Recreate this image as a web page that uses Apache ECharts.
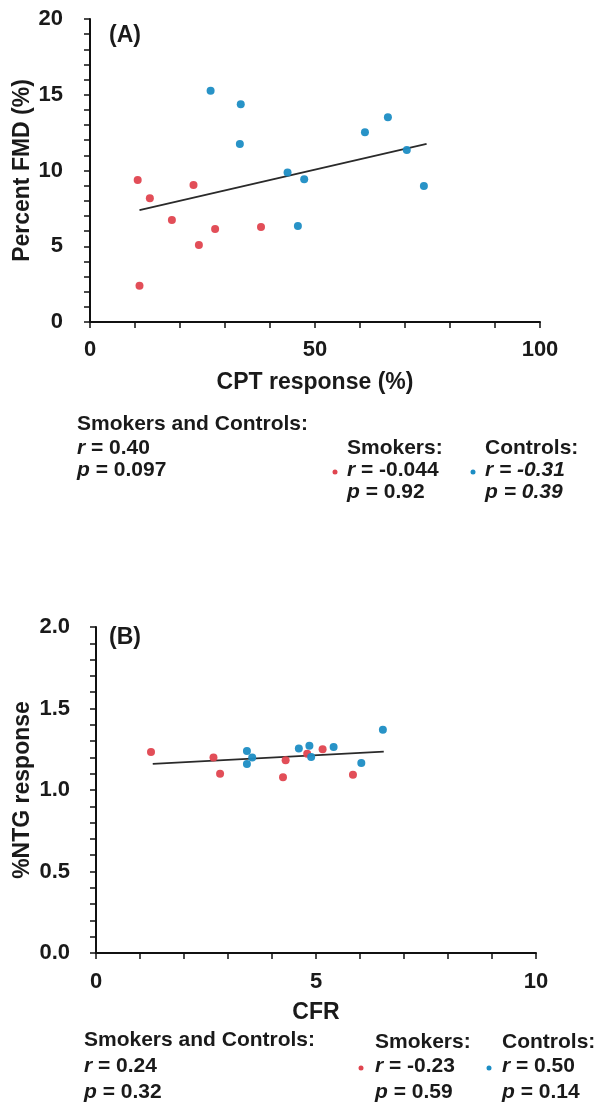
<!DOCTYPE html>
<html>
<head>
<meta charset="utf-8">
<title>CPT / CFR correlations</title>
<script src="https://cdn.jsdelivr.net/npm/echarts@6/dist/echarts.min.js"></script>
<style>
  html, body { margin: 0; padding: 0; background: #fff; }
  #main { width: 610px; height: 1109px; }
</style>
</head>
<body>
<div id="main"></div>
<script>
/********** data **********/
// panel A : CPT response (%) vs Percent FMD (%)
var smokersA_x = [10.6, 13.3, 23.0, 18.2, 27.8, 24.2, 38.0, 11.0];
var smokersA_y = [9.37, 8.17, 9.04, 6.73, 6.14, 5.08, 6.27, 2.40];
var controlsA_x = [26.8, 33.5, 33.3, 61.1, 66.2, 70.4, 43.9, 47.6, 46.2, 74.2];
var controlsA_y = [15.27, 14.37, 11.75, 12.52, 13.51, 11.35, 9.86, 9.42, 6.34, 8.98];
var trendA_x = [11.0, 74.8];
var trendA_y = [7.39, 11.75];

// panel B : CFR vs %NTG response
var smokersB_x = [1.25, 2.67, 2.82, 4.31, 4.25, 4.80, 5.15, 5.84];
var smokersB_y = [1.233, 1.199, 1.10, 1.182, 1.078, 1.223, 1.25, 1.094];
var controlsB_x = [3.43, 3.55, 3.43, 4.61, 4.85, 4.89, 5.40, 6.03, 6.52];
var controlsB_y = [1.239, 1.199, 1.16, 1.254, 1.272, 1.202, 1.264, 1.166, 1.37];
var trendB_x = [1.29, 6.54];
var trendB_y = [1.16, 1.236];

// tick labels that are printed (others are bare ticks)
var labelsAx = [0, 50, 100];
var labelsAy = [0, 5, 10, 15, 20];
var labelsBx = [0, 5, 10];
var labelsBy = [0.0, 0.5, 1.0, 1.5, 2.0];

var RED = '#e0454f';
var BLUE = '#1c8dc4';
var INK = '#1a1a1a';
var FONT = '"Liberation Sans", Arial, sans-serif';

function pairs(xs, ys) {
    var out = [];
    for (var i = 0; i < xs.length; i++) { out.push([xs[i], ys[i]]); }
    return out;
}
function shown(list, digits) {
    return function (v) {
        for (var i = 0; i < list.length; i++) {
            if (Math.abs(v - list[i]) < 1e-6) { return list[i].toFixed(digits); }
        }
        return '';
    };
}
function valueAxis(grid, min, max, interval, list, digits, name, gap, margin, isY) {
    return {
        type: 'value', gridIndex: grid, min: min, max: max, interval: interval,
        name: name, nameLocation: 'middle', nameGap: gap, nameRotate: isY ? 90 : 0,
        nameMoveOverlap: false,
        nameTextStyle: { fontFamily: FONT, fontWeight: 'bold', fontSize: 23, color: INK },
        axisLine: { show: true, onZero: false, lineStyle: { color: '#111', width: 2 } },
        axisTick: { show: true, inside: false, length: 6, lineStyle: { color: '#111', width: 1.5 } },
        axisLabel: {
            show: true, margin: margin, formatter: shown(list, digits),
            showMinLabel: true, showMaxLabel: true,
            fontFamily: FONT, fontWeight: 'bold', fontSize: 22, color: INK
        },
        splitLine: { show: false }
    };
}
function dots(xi, yi, data, color) {
    return {
        type: 'scatter', xAxisIndex: xi, yAxisIndex: yi, data: data,
        symbolSize: 8, itemStyle: { color: color, opacity: 0.95 }, silent: true, z: 3
    };
}
function trend(xi, yi, data) {
    return {
        type: 'line', xAxisIndex: xi, yAxisIndex: yi, data: data, symbol: 'none',
        lineStyle: { color: '#2a2a2a', width: 1.8 }, silent: true, z: 2
    };
}
// stats text, one line
function txt(x, y, rich, text) {
    return {
        type: 'text', left: x, top: y - 12,
        style: { text: text, rich: rich, fontFamily: FONT, fontWeight: 'bold', fontSize: 21, fill: INK }
    };
}
function dot(x, y, color) {
    return { type: 'circle', shape: { cx: x, cy: y, r: 2.5 }, style: { fill: color } };
}

var rich = {
    i: { fontFamily: FONT, fontWeight: 'bold', fontStyle: 'italic', fontSize: 21, color: INK },
    n: { fontFamily: FONT, fontWeight: 'bold', fontSize: 21, color: INK },
    t: { fontFamily: FONT, fontWeight: 'bold', fontSize: 23, color: INK }
};

var option = {
    animation: false,
    backgroundColor: '#fff',
    grid: [
        { left: 90, top: 19, width: 450, height: 303, containLabel: false, outerBoundsMode: 'none' },
        { left: 96, top: 627, width: 440, height: 326, containLabel: false, outerBoundsMode: 'none' }
    ],
    xAxis: [
        valueAxis(0, 0, 100, 10, labelsAx, 0, 'CPT response (%)', 49, 17, false),
        valueAxis(1, 0, 10, 1, labelsBx, 0, 'CFR', 48, 18, false)
    ],
    yAxis: [
        valueAxis(0, 0, 20, 1, labelsAy, 0, 'Percent FMD (%)', 56, 27, true),
        valueAxis(1, 0, 2, 0.1, labelsBy, 1, '%NTG response', 62, 26, true)
    ],
    series: [
        trend(0, 0, pairs(trendA_x, trendA_y)),
        dots(0, 0, pairs(smokersA_x, smokersA_y), RED),
        dots(0, 0, pairs(controlsA_x, controlsA_y), BLUE),
        trend(1, 1, pairs(trendB_x, trendB_y)),
        dots(1, 1, pairs(smokersB_x, smokersB_y), RED),
        dots(1, 1, pairs(controlsB_x, controlsB_y), BLUE)
    ],
    graphic: [
        txt(109, 36, rich, '{t|(A)}'),
        txt(109, 638, rich, '{t|(B)}'),
        // panel A stats
        txt(77, 426, rich, '{n|Smokers and Controls:}'),
        txt(77, 450, rich, '{i|r}{n| = 0.40}'),
        txt(77, 472, rich, '{i|p}{n| = 0.097}'),
        txt(347, 450, rich, '{n|Smokers:}'),
        dot(335, 472, RED),
        txt(347, 472, rich, '{i|r}{n| = -0.044}'),
        txt(347, 494, rich, '{i|p}{n| = 0.92}'),
        txt(485, 450, rich, '{n|Controls:}'),
        dot(473, 472, BLUE),
        txt(485, 472, rich, '{i|r = -0.31}'),
        txt(485, 494, rich, '{i|p = 0.39}'),
        // panel B stats
        txt(84, 1042, rich, '{n|Smokers and Controls:}'),
        txt(84, 1068, rich, '{i|r}{n| = 0.24}'),
        txt(84, 1094, rich, '{i|p}{n| = 0.32}'),
        txt(375, 1044, rich, '{n|Smokers:}'),
        dot(361, 1068, RED),
        txt(375, 1068, rich, '{i|r}{n| = -0.23}'),
        txt(375, 1094, rich, '{i|p}{n| = 0.59}'),
        txt(502, 1044, rich, '{n|Controls:}'),
        dot(489, 1068, BLUE),
        txt(502, 1068, rich, '{i|r}{n| = 0.50}'),
        txt(502, 1094, rich, '{i|p}{n| = 0.14}')
    ]
};

var chart = echarts.init(document.getElementById('main'), null, { renderer: 'canvas' });
chart.setOption(option);
</script>
</body>
</html>
